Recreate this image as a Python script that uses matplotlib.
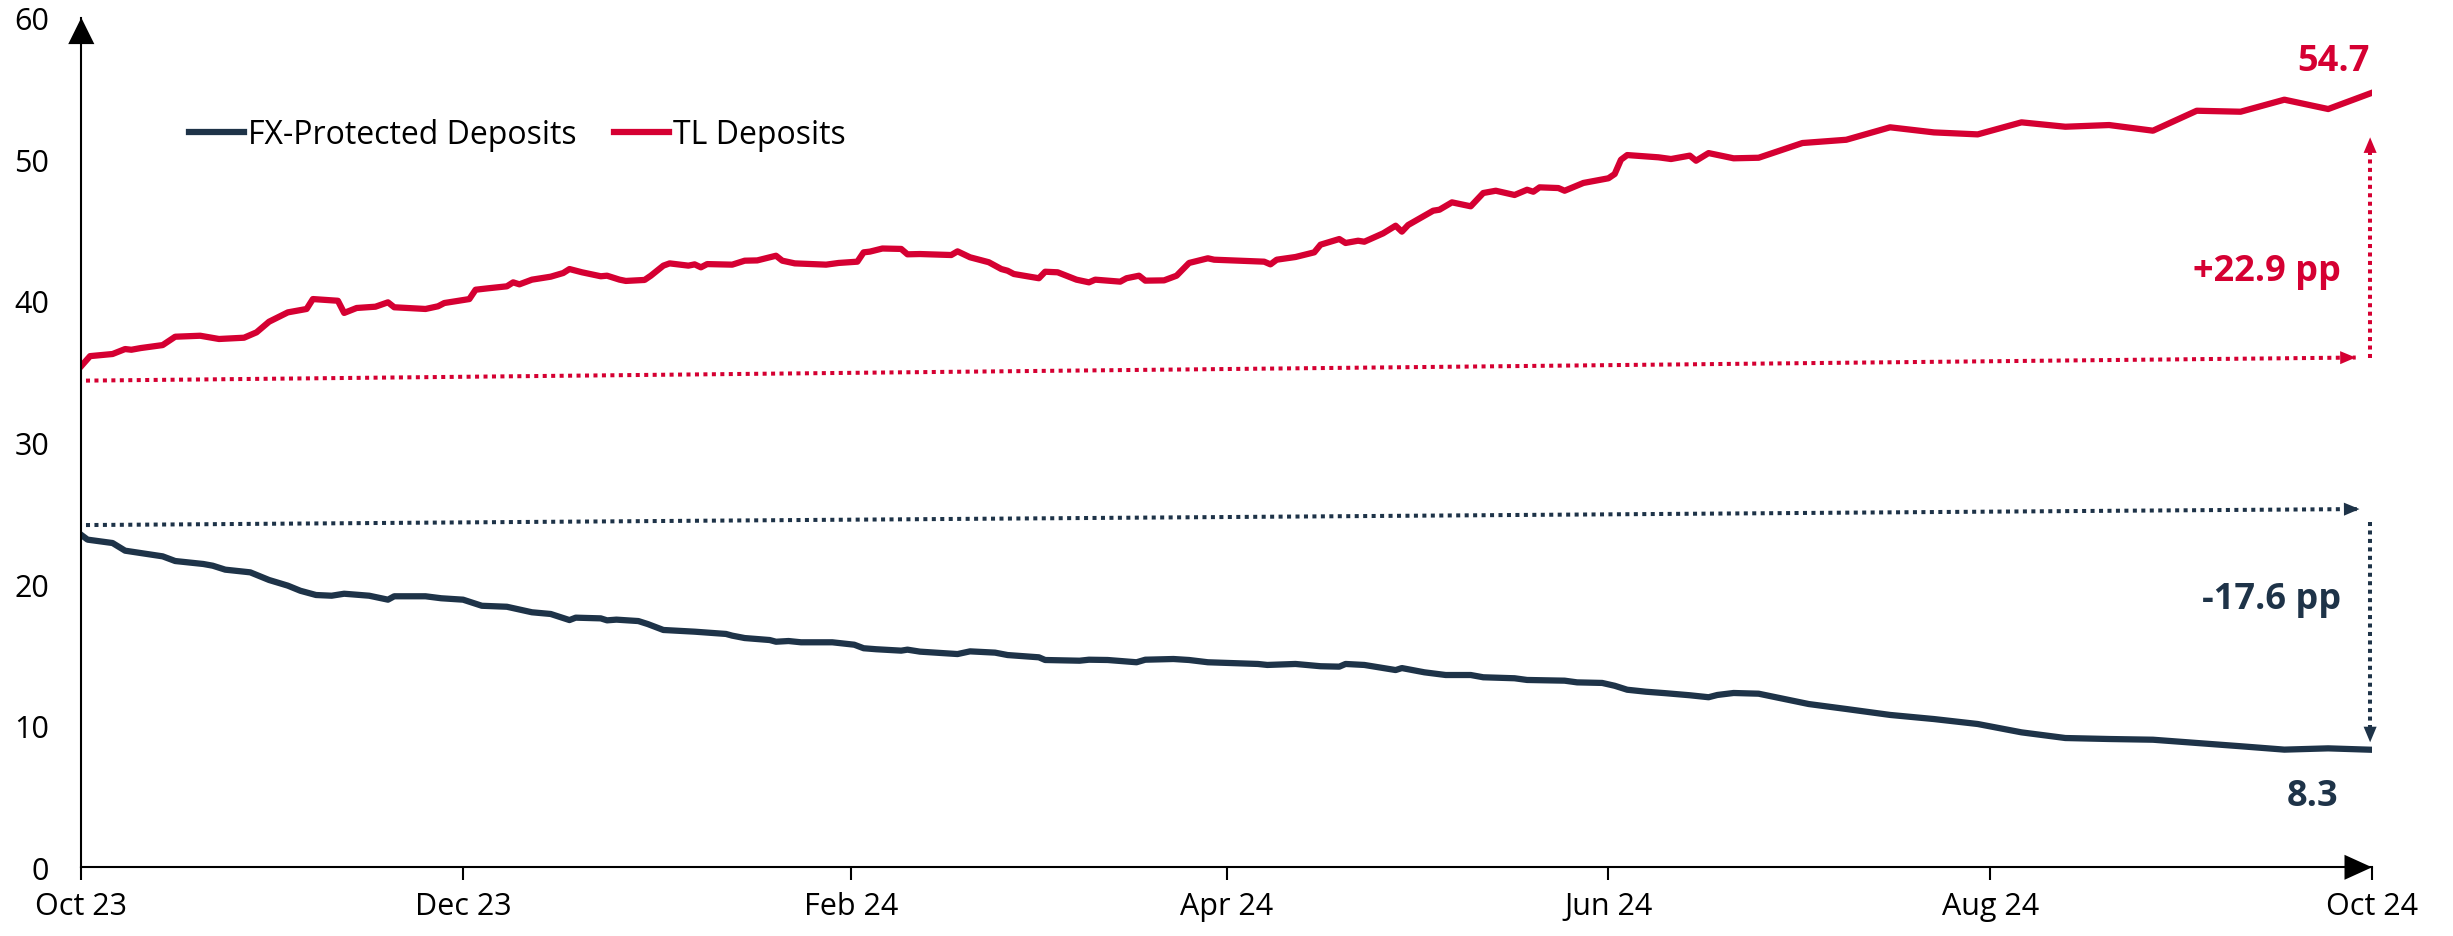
import numpy as np
import pandas as pd
import matplotlib
matplotlib.use("Agg")
import matplotlib.pyplot as plt
import matplotlib.dates as mdates

plt.rcParams['font.family'] = ['Open Sans', 'DejaVu Sans']

# days counted from 1 Oct 2023, values in percent
tl_days = [0, 1.4, 5, 7, 8, 9.5, 13, 15, 19, 22, 26, 28, 30, 33, 36, 37, 41, 42, 44, 47,
           49, 50, 55, 57, 58, 62, 63, 65, 68, 69, 70, 72, 75, 77, 78, 80, 83, 84, 86, 87,
           90, 91, 93, 94, 97, 98, 99, 100, 104, 106, 108, 111, 112, 114, 119, 121, 124, 125, 126, 128,
           131, 132, 134, 139, 140, 142, 145, 147, 148, 149, 153, 154, 156, 159, 161, 162, 166, 167, 169, 170,
           173, 175, 177, 180, 181, 189, 190, 191, 194, 197, 198, 201, 202, 204, 205, 208, 210, 211, 212, 216,
           217, 219, 222, 224, 226, 229, 231, 232, 233, 236, 237, 240, 244, 245, 246, 247, 252, 254, 257, 258,
           260, 264, 268, 275, 282, 289, 296, 303, 310, 317, 324, 331, 338, 345, 352, 359, 366]
tl_vals = [35.4, 36.1, 36.25, 36.6, 36.55, 36.67, 36.88, 37.47, 37.54, 37.31, 37.4, 37.78, 38.53, 39.19, 39.43, 40.13, 40.01, 39.15, 39.5, 39.59,
           39.9, 39.55, 39.43, 39.62, 39.85, 40.13, 40.79, 40.89, 41.03, 41.31, 41.17, 41.5, 41.71, 41.97, 42.25, 42.02, 41.74, 41.78, 41.5, 41.41,
           41.48, 41.78, 42.49, 42.65, 42.49, 42.58, 42.37, 42.6, 42.56, 42.84, 42.86, 43.19, 42.84, 42.65, 42.56, 42.68, 42.77, 43.43, 43.48, 43.7,
           43.67, 43.29, 43.31, 43.24, 43.5, 43.08, 42.73, 42.25, 42.13, 41.9, 41.6, 42.06, 42.02, 41.5, 41.31, 41.5, 41.36, 41.6, 41.78, 41.43,
           41.45, 41.78, 42.68, 43.01, 42.91, 42.77, 42.58, 42.91, 43.1, 43.43, 43.97, 44.37, 44.09, 44.25, 44.18, 44.77, 45.31, 44.89, 45.36, 46.37,
           46.44, 46.96, 46.68, 47.62, 47.78, 47.48, 47.85, 47.71, 48.02, 47.97, 47.78, 48.33, 48.66, 48.96, 49.97, 50.3, 50.14, 50.02, 50.26, 49.9,
           50.44, 50.07, 50.11, 51.15, 51.38, 52.26, 51.9, 51.76, 52.61, 52.3, 52.42, 52.02, 53.43, 53.36, 54.21, 53.55, 54.7]

fx_days = [0, 1, 5, 7, 13, 15, 19.5, 21, 23, 27, 30, 33, 35, 37.5, 40, 42, 46, 49, 50, 55,
           57.5, 61, 64, 68, 72, 75, 78, 79, 83, 84, 85.5, 89, 90.5, 93, 98, 103, 104, 106, 110, 111,
           113, 115, 120, 123.5, 125, 127, 131, 132, 134, 140, 142, 146, 148, 153, 154, 159.5, 161, 164, 168.6, 170,
           174.5, 177, 180, 188, 189.5, 194, 198, 201, 202, 205, 210, 211, 214.6, 218, 222, 224, 229, 231, 237, 239,
           243, 245, 247, 250, 253, 257, 260, 261.4, 264, 268, 276, 282, 289, 296, 303, 310, 317, 324, 331, 338,
           345, 352, 359, 366]
fx_vals = [23.47, 23.14, 22.9, 22.36, 21.96, 21.63, 21.42, 21.3, 21.02, 20.83, 20.29, 19.89, 19.53, 19.23, 19.18, 19.32, 19.18, 18.9, 19.14, 19.14,
           19.0, 18.9, 18.47, 18.4, 18.01, 17.89, 17.46, 17.63, 17.58, 17.44, 17.49, 17.39, 17.18, 16.76, 16.64, 16.48, 16.36, 16.19, 16.05, 15.93,
           15.98, 15.89, 15.89, 15.72, 15.47, 15.4, 15.3, 15.37, 15.23, 15.06, 15.25, 15.16, 14.99, 14.83, 14.64, 14.59, 14.66, 14.64, 14.48, 14.66,
           14.71, 14.64, 14.48, 14.36, 14.29, 14.36, 14.2, 14.17, 14.36, 14.29, 13.93, 14.07, 13.77, 13.58, 13.58, 13.42, 13.35, 13.23, 13.18, 13.06,
           13.02, 12.82, 12.54, 12.4, 12.3, 12.15, 12.01, 12.17, 12.31, 12.26, 11.53, 11.18, 10.76, 10.47, 10.12, 9.53, 9.13, 9.06, 9.01, 8.78,
           8.55, 8.31, 8.4, 8.3]

series_names = ["FX-Protected Deposits", "TL Deposits"]
tick_dates = ["2023-10-01", "2023-12-01", "2024-02-01", "2024-04-01", "2024-06-01", "2024-08-01", "2024-10-01"]
y_ticks = [0, 10, 20, 30, 40, 50, 60]
tl_change = "+22.9 pp"
fx_change = "-17.6 pp"

RED = "#D50032"
NAVY = "#1E3348"

t0 = mdates.date2num(pd.Timestamp("2023-10-01"))
t1 = mdates.date2num(pd.Timestamp("2024-10-01"))
tl_x = t0 + np.array(tl_days)
fx_x = t0 + np.array(fx_days)

fig = plt.figure(figsize=(24.53, 9.37), dpi=100)
ax = fig.add_axes([0.03314, 0.07332, 0.93384, 0.90672])

ax.plot(fx_x, fx_vals, color=NAVY, lw=4.5, label=series_names[0], solid_joinstyle='round')
ax.plot(tl_x, tl_vals, color=RED, lw=4.5, label=series_names[1], solid_joinstyle='round')

ax.set_xlim(t0, t1)
ax.set_ylim(0, 60)

for s in ['top', 'right']:
    ax.spines[s].set_visible(False)
for s in ['left', 'bottom']:
    ax.spines[s].set_linewidth(1.5)
    ax.spines[s].set_color('black')

ax.set_xticks([mdates.date2num(pd.Timestamp(d)) for d in tick_dates])
ax.xaxis.set_major_formatter(mdates.DateFormatter('%b %y'))
ax.set_yticks(y_ticks)
ax.tick_params(axis='x', length=9.4, width=1.5, pad=8, labelsize=22, direction='out')
ax.tick_params(axis='y', length=0, pad=23, labelsize=22)

# axis arrows
def head(xy, xytext, coords, color, hl, hw):
    ax.annotate('', xy=xy, xycoords=coords, xytext=xytext, textcoords=coords,
                arrowprops=dict(arrowstyle='-|>,head_length=%s,head_width=%s' % (hl, hw),
                                mutation_scale=10, color=color, lw=0, shrinkA=0, shrinkB=0),
                annotation_clip=False)

head((1, 0), (0.99, 0), 'axes fraction', 'black', 1.98, 0.9)
head((0, 1), (0, 0.98), 'axes fraction', 'black', 1.9, 0.94)

# dotted change markers
x_start = t0 + 0.75
x_hend_red = t0 + 363.4
x_hend_navy = t0 + 364
x_vert = t0 + 365.7

ax.plot([x_start, x_hend_red], [34.37, 36.0], color=RED, lw=2.9, ls=(0, (1, 1.1)), dash_capstyle='butt')
head((x_hend_red, 36.0), (x_hend_red - 3, 35.99), 'data', RED, 1.12, 0.47)
ax.plot([x_vert, x_vert], [36.0, 50.5], color=RED, lw=2.9, ls=(0, (1, 1.1)), dash_capstyle='butt')
head((x_vert, 51.55), (x_vert, 50.5), 'data', RED, 1.12, 0.47)

ax.plot([x_start, x_hend_navy], [24.17, 25.3], color=NAVY, lw=2.9, ls=(0, (1, 1.1)), dash_capstyle='butt')
head((x_hend_navy, 25.3), (x_hend_navy - 3, 25.29), 'data', NAVY, 1.12, 0.47)
ax.plot([x_vert, x_vert], [24.36, 9.9], color=NAVY, lw=2.9, ls=(0, (1, 1.1)), dash_capstyle='butt')
head((x_vert, 8.83), (x_vert, 9.9), 'data', NAVY, 1.12, 0.47)

# labels
ax.annotate("%.1f" % tl_vals[-1], xy=(tl_x[-1], tl_vals[-1]), xytext=(-2, 22.6), textcoords='offset points',
            ha='right', va='center', fontsize=26, fontweight='bold', color=RED, annotation_clip=False)
ax.annotate("%.1f" % fx_vals[-1], xy=(fx_x[-1], fx_vals[-1]), xytext=(-24.5, -33), textcoords='offset points',
            ha='right', va='center', fontsize=26, fontweight='bold', color=NAVY, annotation_clip=False)
ax.annotate(tl_change, xy=(x_vert, 42.13), xytext=(-21, 0), textcoords='offset points',
            ha='right', va='center', fontsize=26, fontweight='bold', color=RED)
ax.annotate(fx_change, xy=(x_vert, 18.95), xytext=(-21, 0), textcoords='offset points',
            ha='right', va='center', fontsize=26, fontweight='bold', color=NAVY)

ax.legend(loc='center left', bbox_to_anchor=(0.07705, 0.8549), bbox_transform=fig.transFigure,
          ncol=2, frameon=False, fontsize=23, handlelength=1.72, handletextpad=0.13,
          columnspacing=1.16, borderpad=0, borderaxespad=0)

fig.savefig("out.png", dpi=100)
